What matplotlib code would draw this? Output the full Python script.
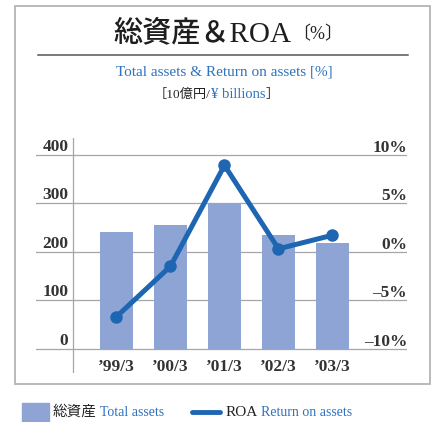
import matplotlib
matplotlib.use("Agg")
import matplotlib.pyplot as plt
from matplotlib.patches import Rectangle
from matplotlib.lines import Line2D
import matplotlib.transforms as mtransforms

# data
periods = ["\u201999/3", "\u201900/3", "\u201901/3", "\u201902/3", "\u201903/3"]
total_assets = [240, 255, 300, 234, 218]      # 10億円
roa = [-6.6, -1.4, 9.0, 0.4, 1.8]             # %
left_ticks = [0, 100, 200, 300, 400]
right_ticks = [-10, -5, 0, 5, 10]
right_labels = ["\u201310%", "\u20135%", "0%", "5%", "10%"]

BAR_COLOR = "#8EA4D4"
LINE_COLOR = "#1E66B2"
BLUE_TEXT = "#2F72BD"
GRID = "#A6A6A6"
SERIF = ["Liberation Serif", "Noto Sans CJK JP"]

W, H = 437, 422
fig = plt.figure(figsize=(W / 100, H / 100), dpi=100)


def fx(px):
    return px / W


def fy(py):
    return 1 - py / H


# outer frame
fig.add_artist(Rectangle((fx(15), fy(384)), fx(415), (384 - 6) / H,
                         transform=fig.transFigure, fill=False,
                         edgecolor="#B4B4B4", linewidth=1.3))

# titles
fig.text(fx(202), fy(33), "総資産＆ROA", fontsize=21, family=SERIF,
         color="#1E1E1E", ha="center", va="center", fontweight="medium")
fig.text(fx(318), fy(35), "〔%〕", fontsize=13, family=SERIF,
         color="#222222", ha="center", va="center")
fig.add_artist(Line2D([fx(38), fx(408)], [fy(55), fy(55)],
                      transform=fig.transFigure, color="#555555", linewidth=1.1))
fig.text(fx(224), fy(72), "Total assets & Return on assets [%]", fontsize=11,
         family=SERIF, color=BLUE_TEXT, ha="center", va="center")
t1 = fig.text(fx(154), fy(95), "［10億円/", fontsize=9.5, family=SERIF,
              color="#222222", ha="left", va="center")
fig.canvas.draw()
t2 = fig.text(t1.get_window_extent().x1 / W, fy(95), "¥ billions", fontsize=10.5,
              family=SERIF, color=BLUE_TEXT, ha="left", va="center")
fig.canvas.draw()
fig.text(t2.get_window_extent().x1 / W, fy(95), "］", fontsize=9.5, family=SERIF,
         color="#222222", ha="left", va="center")

# axes
ax = fig.add_axes([fx(36), fy(373), fx(407) - fx(36), (373 - 138) / H])
x = list(range(len(periods)))
ax.bar(x, total_assets, width=0.61, color=BAR_COLOR, zorder=2)
ax.set_xlim(-1.49, 5.38)
ax.set_ylim(-50.1, 434.4)
for v in left_ticks:
    ax.axhline(v, color=GRID, linewidth=0.9, zorder=1)
ax.axvline(-0.81, color=GRID, linewidth=0.9, zorder=1)
for s in ax.spines.values():
    s.set_visible(False)
ax.set_xticks([])
ax.set_yticks([])
ax.patch.set_alpha(0)

ax2 = ax.twinx()
ax2.set_ylim(-12.40, 11.82)
ax2.plot(x, roa, color=LINE_COLOR, linewidth=3.6, marker="o", markersize=8,
         solid_capstyle="round", zorder=3)
for s in ax2.spines.values():
    s.set_visible(False)
ax2.set_yticks([])

trans_l = mtransforms.blended_transform_factory(ax.transAxes, ax.transData)
for v in left_ticks:
    ax.text(0.087, v, str(v), transform=trans_l, ha="right", va="bottom",
            fontsize=12.5, fontweight="bold", family=SERIF, color="#333333")
trans_r = mtransforms.blended_transform_factory(ax2.transAxes, ax2.transData)
for v, lab in zip(right_ticks, right_labels):
    ax2.text(1.0, v, lab, transform=trans_r, ha="right", va="bottom",
             fontsize=12.5, fontweight="bold", family=SERIF, color="#333333")
trans_x = mtransforms.blended_transform_factory(ax.transData, ax.transAxes)
for xi, lab in zip(x, periods):
    ax.text(xi, 0.027, lab, transform=trans_x, ha="center", va="center",
            fontsize=12.5, fontweight="bold", family=SERIF, color="#333333")

# legend
fig.add_artist(Rectangle((fx(22), fy(422)), fx(27), 19 / H,
                         transform=fig.transFigure, color=BAR_COLOR))
lt = fig.text(fx(53), fy(412), "総資産", fontsize=10.5, family=SERIF,
              color="#222222", ha="left", va="center")
fig.canvas.draw()
fig.text(lt.get_window_extent().x1 / W + 0.008, fy(412), "Total assets",
         fontsize=10, family=SERIF, color=BLUE_TEXT, ha="left", va="center")
fig.add_artist(Line2D([fx(192), fx(220)], [fy(412), fy(412)],
                      transform=fig.transFigure, color=LINE_COLOR,
                      linewidth=3.5, solid_capstyle="round"))
rt = fig.text(fx(226), fy(412), "ROA", fontsize=11, family=SERIF,
              color="#222222", ha="left", va="center")
fig.canvas.draw()
fig.text(rt.get_window_extent().x1 / W + 0.006, fy(412), "Return on assets",
         fontsize=10, family=SERIF, color=BLUE_TEXT, ha="left", va="center")

fig.savefig("out.png", dpi=100)
